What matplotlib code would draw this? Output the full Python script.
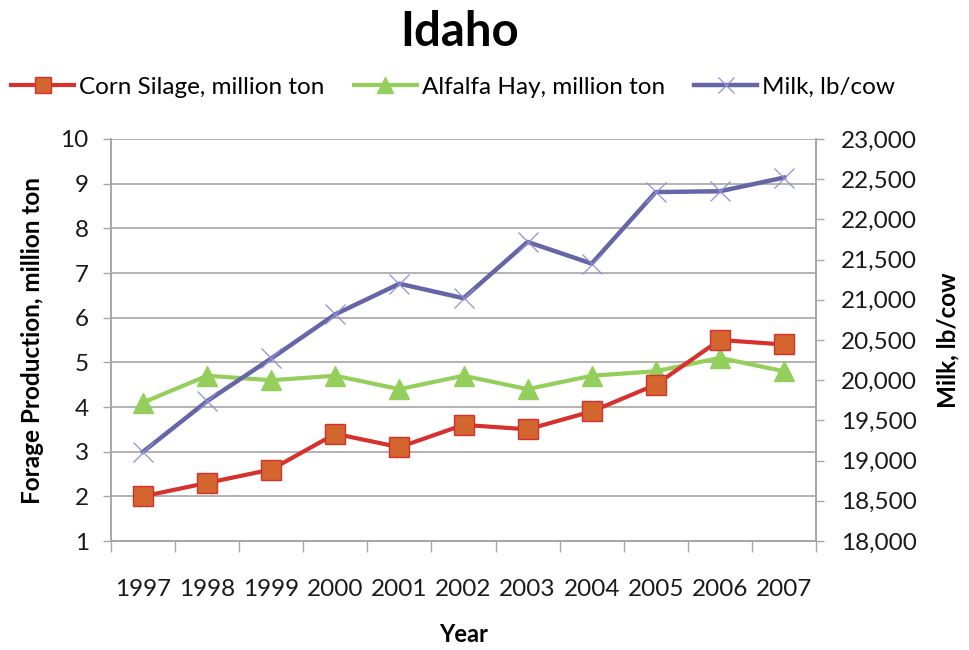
import matplotlib
matplotlib.use('Agg')
import matplotlib.pyplot as plt
from matplotlib.ticker import FuncFormatter, MultipleLocator

years = ['1997', '1998', '1999', '2000', '2001', '2002', '2003', '2004', '2005', '2006', '2007']
corn_silage = [2.0, 2.3, 2.6, 3.4, 3.1, 3.6, 3.5, 3.9, 4.5, 5.5, 5.4]
alfalfa_hay = [4.1, 4.7, 4.6, 4.7, 4.4, 4.7, 4.4, 4.7, 4.8, 5.1, 4.8]
milk = [19110, 19740, 20270, 20820, 21200, 21020, 21720, 21450, 22340, 22350, 22520]

plt.rcParams['font.family'] = ['Lato', 'DejaVu Sans']
grey = '#a6a6a6'
txt = '#1a1a1a'

fig = plt.figure(figsize=(9.69, 6.5), dpi=100)
ax = fig.add_axes([111/969, 1 - 541/650, 705/969, 402/650])
ax2 = ax.twinx()

x = list(range(len(years)))
l1, = ax.plot(x, corn_silage, color='#d7312f', lw=3, marker='s', ms=14,
              mfc='#d2662e', mec='#d7312f', mew=1, zorder=4)
l2, = ax.plot(x, alfalfa_hay, color='#94cf5c', lw=3, marker='^', ms=14,
              mfc='#94cf5c', mec='#94cf5c', zorder=3)
l3, = ax2.plot(x, milk, color='#6665a6', lw=3.2, marker='x', ms=15,
               mec='#8f8fd8', mew=0.9)

ax.set_xlim(-0.5, len(years) - 0.5)
ax.set_ylim(1, 10)
ax.yaxis.set_major_locator(MultipleLocator(1))
ax2.set_ylim(18000, 23000)
ax2.yaxis.set_major_locator(MultipleLocator(500))
ax2.yaxis.set_major_formatter(FuncFormatter(lambda v, p: f'{int(v):,}'))

ax.set_xticks(x)
ax.set_xticklabels(years)
ax.set_xticks([i - 0.5 for i in range(len(years) + 1)], minor=True)
ax.tick_params(axis='x', which='major', length=0, pad=27, labelsize=17.5, labelcolor=txt)
ax.tick_params(axis='x', which='minor', length=8, width=1, color=grey)
ax.tick_params(axis='y', length=6, width=1, color=grey, pad=10, labelsize=17.5, labelcolor=txt)
ax2.tick_params(axis='y', length=6, width=1, color=grey, pad=12, labelsize=17.5, labelcolor=txt)

ax.grid(axis='y', color=grey, lw=1.2)
ax.set_axisbelow(True)
for a in (ax, ax2):
    a.spines['top'].set_visible(False)
    for s in ('left', 'right', 'bottom'):
        a.spines[s].set_color(grey)
        a.spines[s].set_linewidth(1.2)

ax.set_ylabel('Forage Production, million ton', fontsize=17.5, fontweight='bold', labelpad=12)
ax2.set_ylabel('Milk, lb/cow', fontsize=17.5, fontweight='bold', labelpad=14)
ax.set_xlabel('Year', fontsize=17, fontweight='bold', labelpad=17)

fig.suptitle('Idaho', x=460/969, y=0.985, fontsize=34, fontweight='bold')
fig.legend([l1, l2, l3], ['Corn Silage, million ton', 'Alfalfa Hay, million ton', 'Milk, lb/cow'],
           loc='center', bbox_to_anchor=(453/969, 1 - 87/650), ncol=3, frameon=False,
           fontsize=17.5, handlelength=2.6, columnspacing=1.2, handletextpad=0.2, markerscale=0.8)

fig.savefig('out.png', dpi=100)
